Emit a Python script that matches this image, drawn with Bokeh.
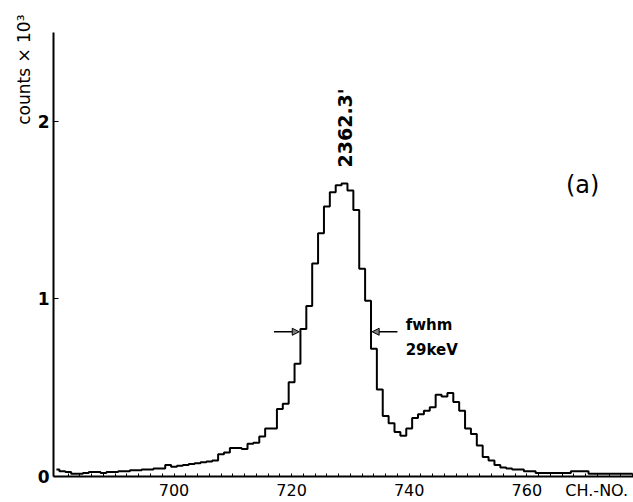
import math
from bokeh.plotting import figure
from bokeh.models import Range1d, FixedTicker, Label, Arrow, NormalHead, Title
from bokeh.embed import file_html
from bokeh.resources import INLINE

channels = list(range(680, 779))
counts = [
    0.04, 0.03, 0.025, 0.015, 0.015, 0.02, 0.025, 0.025, 0.02, 0.025,   # 680-689
    0.025, 0.03, 0.03, 0.035, 0.035, 0.04, 0.04, 0.045, 0.045, 0.065,  # 690-699
    0.055, 0.06, 0.065, 0.07, 0.075, 0.08, 0.085, 0.09, 0.125, 0.135,  # 700-709
    0.16, 0.16, 0.155, 0.185, 0.19, 0.225, 0.27, 0.27, 0.38, 0.41,     # 710-719
    0.53, 0.635, 0.83, 0.96, 1.20, 1.37, 1.52, 1.60, 1.64, 1.65,       # 720-729
    1.61, 1.50, 1.17, 0.99, 0.72, 0.49, 0.34, 0.30, 0.25, 0.23,        # 730-739
    0.27, 0.33, 0.35, 0.37, 0.39, 0.46, 0.45, 0.47, 0.42, 0.37,        # 740-749
    0.27, 0.24, 0.175, 0.11, 0.09, 0.065, 0.05, 0.045, 0.04, 0.04,     # 750-759
    0.03, 0.03, 0.02, 0.02, 0.02, 0.02, 0.02, 0.02, 0.03, 0.03,        # 760-769
    0.03, 0.015, 0.015, 0.015, 0.015, 0.015, 0.015, 0.015, 0.015,      # 770-778
]
x_ticks = [700, 720, 740, 760]
x_unit_pos = 771.9
x_unit_label = "CH.-NO."
y_ticks = [0, 1, 2]
y_title = "counts × 10³"
minor_ticks = list(range(682, 779, 2))

half_max = 0.815
fwhm_left = (717.0, 721.3)
fwhm_right = (738.0, 733.7)
peak_label = "2362.3'"

p = figure(width=633, height=502, output_backend="svg", toolbar_location=None,
           x_range=Range1d(679.5, 778.15), y_range=Range1d(0, 2.5),
           min_border_left=53, min_border_right=0, min_border_top=32, min_border_bottom=25)
p.outline_line_color = None
p.grid.visible = False
p.background_fill_color = "white"
p.border_fill_color = "white"

p.step(channels, counts, mode="center", line_color="black", line_width=2)

p.xaxis.ticker = FixedTicker(ticks=x_ticks + [x_unit_pos], minor_ticks=minor_ticks)
p.xaxis.major_label_overrides = {x_unit_pos: x_unit_label}
p.yaxis.ticker = FixedTicker(ticks=y_ticks)
for ax in (p.xaxis, p.yaxis):
    ax.axis_line_width = 2
    ax.axis_line_color = "black"
    ax.major_tick_out = 0
    ax.minor_tick_out = 0
    ax.major_tick_line_color = "black"
    ax.minor_tick_line_color = "black"
    ax.major_label_text_color = "black"
    ax.major_label_text_font = "DejaVu Sans"
p.xaxis.major_tick_in = 0
p.xaxis.minor_tick_in = 3
p.yaxis.major_tick_in = 5
p.yaxis.minor_tick_line_color = None
p.xaxis.major_label_text_font_size = "16px"
p.yaxis.major_label_text_font_size = "17px"
p.yaxis.major_label_text_font_style = "bold"
p.xaxis.major_label_standoff = 4
p.yaxis.major_label_standoff = 4

p.add_layout(Title(text=y_title, align="right", text_font="DejaVu Sans",
                   text_font_size="17px", text_font_style="normal",
                   text_color="black", offset=-18, standoff=2), "left")

def lab(x, y, text, size, angle=0.0, align="left", baseline="middle", style="normal"):
    p.add_layout(Label(x=x, y=y, text=text, angle=angle, text_align=align,
                       text_baseline=baseline, text_font="DejaVu Sans",
                       text_font_size=size, text_font_style=style, text_color="black"))

lab(729.1, 1.74, peak_label, "19px", angle=math.pi / 2, style="bold")
lab(769.5, 1.64, "(a)", "24px", align="center")
lab(739.4, 0.852, "fwhm", "15px", style="bold")
lab(739.4, 0.711, "29keV", "15px", style="bold")

for xs, xe in (fwhm_left, fwhm_right):
    p.add_layout(Arrow(x_start=xs, y_start=half_max, x_end=xe, y_end=half_max,
                       line_color="black", line_width=1.5,
                       end=NormalHead(size=7, fill_color="gray", line_color="black")))

open("out.html", "w").write(file_html(p, INLINE))
